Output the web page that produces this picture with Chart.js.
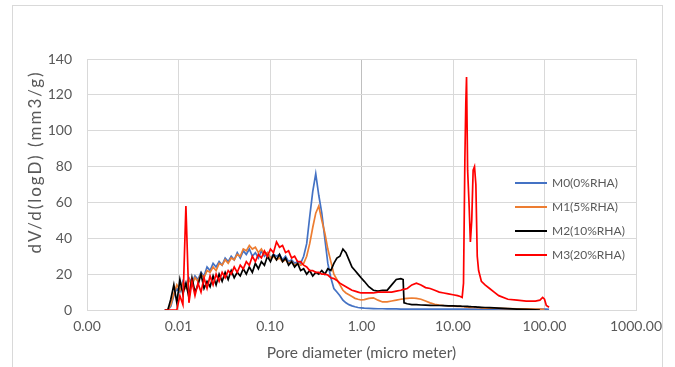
<!DOCTYPE html>
<html>
<head>
<meta charset="utf-8">
<script src="https://cdn.jsdelivr.net/npm/chart.js@4.4.1/dist/chart.umd.min.js"></script>
<style>
  body { margin: 0; background: #ffffff; }
  canvas { display: block; }
</style>
</head>
<body>
<canvas id="pore-chart" width="675" height="367"></canvas>
<script>
// Pore size distribution
const seriesLabels = ['M0(0%RHA)', 'M1(5%RHA)', 'M2(10%RHA)', 'M3(20%RHA)'];
const seriesColors = ['#4472C4', '#ED7D31', '#000000', '#FF0000'];

const xTitle = 'Pore diameter (micro meter)';
const yTitle = 'dV/d(logD) (mm3/g)';
const xTickValues = [0.001, 0.01, 0.1, 1, 10, 100, 1000];
const yMin = 0;
const yMax = 140;
const yStep = 20;

// pore diameter, micro meter
const poreDiameter = [
    0.00708, 0.00764, 0.00824, 0.00889, 0.00959, 0.01035, 0.01117, 0.01205, 0.01300, 0.01403,
    0.01514, 0.01633, 0.01762, 0.01901, 0.02051, 0.02213, 0.02388, 0.02576, 0.02780, 0.02999,
    0.03236, 0.03491, 0.03767, 0.04064, 0.04385, 0.04732, 0.05105, 0.05508, 0.05943, 0.06412,
    0.06918, 0.07464, 0.08054, 0.08690, 0.09376, 0.1012, 0.1091, 0.1178, 0.1271, 0.1371,
    0.1479, 0.1596, 0.1722, 0.1858, 0.2004, 0.2163, 0.2333, 0.2518, 0.2716, 0.2931,
    0.3162, 0.3412, 0.3681, 0.3972, 0.4285, 0.4624, 0.4989, 0.5383, 0.5808, 0.6266,
    0.6761, 0.7295, 0.7870, 0.8492, 0.9162, 0.9886,
    1.072, 1.202, 1.349, 1.514, 1.698, 1.905, 2.138, 2.399, 2.692, 2.851,
    2.917, 3.162, 3.548, 3.981, 4.467, 5.012, 5.623, 6.310, 7.079, 7.943,
    8.913, 10.00,
    11.22, 12.02, 12.59, 13.03, 13.49, 13.80, 14.06, 14.45, 14.96, 15.49,
    16.03, 16.60, 17.18, 17.78, 18.41, 19.05, 20.42, 22.39, 25.12, 28.18,
    31.62, 39.81, 50.12, 63.10, 79.43, 89.13, 95.50, 100.0, 104.7, 112.2
];

// dV/d(logD), mm3/g
const m0Values = [
    0, 0, 2, 8, 12, 10, 16, 13, 18, 15,
    19, 17, 21, 19, 24, 22, 26, 24, 27, 25,
    29, 27, 30, 28, 32, 29, 33, 31, 34, 30,
    32, 29, 33, 30, 32, 29, 31, 30, 31, 28,
    30, 27, 28, 26, 27, 26, 30, 37, 52, 66,
    76, 64, 54, 40, 26, 18, 12, 10, 8, 5.5,
    4, 3, 2.3, 1.8, 1.4, 1.2,
    1.0, 0.9, 0.8, 0.7, 0.7, 0.6, 0.6, 0.6, 0.5, 0.5,
    0.5, 0.5, 0.5, 0.5, 0.5, 0.5, 0.5, 0.5, 0.5, 0.5,
    0.5, 0.5,
    0.5, 0.5, 0.5, 0.5, 0.5, 0.5, 0.5, 0.5, 0.5, 0.5,
    0.5, 0.5, 0.5, 0.5, 0.5, 0.5, 0.5, 0.5, 0.5, 0.5,
    0.5, 0.5, 0.5, 0.5, 0.5, 0.5, 0.5, 0.5, 0.5, 0.3
];

const m1Values = [
    0, 0, 3, 9, 14, 11, 15, 12, 17, 14,
    18, 16, 20, 18, 22, 21, 24, 22, 26, 25,
    28, 26, 29, 28, 31, 30, 34, 33, 36, 34,
    35, 32, 34, 31, 32, 29, 30, 28, 29, 27,
    28, 26, 27, 25, 26, 25, 26, 30, 37, 46,
    54, 58, 50, 43, 34, 27, 20, 17, 14, 11,
    9.5, 8.5, 7.5, 6.5, 6, 5.6,
    5.8, 6.5, 6.8, 5.5, 4.5, 4.5, 5, 5.5, 6, 6.2,
    6.3, 6.5, 6.7, 6.5, 6, 5, 4, 3.2, 2.8, 2.5,
    2.3, 2.2,
    2, 2, 1.8, 1.8, 1.7, 1.7, 1.6, 1.6, 1.5, 1.5,
    1.5, 1.4, 1.4, 1.4, 1.3, 1.3, 1.2, 1.1, 1, 1,
    0.9, 0.8, 0.7, 0.6, 0.5, 0.5, 0.4, 0.3, null, null
];

const m2Values = [
    0, 0, 6, 14, 4, 17, 9, 15, 7, 18,
    10, 14, 20, 12, 16, 13, 19, 14, 20, 16,
    21, 17, 22, 18, 21, 19, 23, 20, 24, 21,
    26, 23, 27, 25, 30, 27, 31, 28, 31, 27,
    29, 25, 27, 24, 26, 22, 23, 20, 22, 19,
    21, 20, 22, 20, 23, 22, 26, 29, 30, 34,
    32, 28, 24, 22, 20, 18,
    16, 13, 11, 10.5, 11, 11, 14, 17, 17.5, 17,
    4, 3.5, 3, 3, 2.8, 2.7, 2.6, 2.5, 2.5, 2.4,
    2.3, 2.3,
    2.2, 2.2, 2.1, 2.1, 2, 2, 2, 2, 1.9, 1.9,
    1.8, 1.8, 1.7, 1.7, 1.6, 1.6, 1.5, 1.4, 1.3, 1.2,
    1.1, 0.8, 0.5, 0.3, 0.1, 0, null, null, null, null
];

const m3Values = [
    0, 0, 0, 0, 0, 8, 3, 58, 4, 16,
    8, 15, 10, 18, 12, 19, 14, 20, 16, 21,
    18, 22, 20, 24, 21, 25, 23, 27, 25, 30,
    27, 31, 29, 33, 30, 34, 32, 38, 35, 36,
    32, 33, 29, 30, 27, 27, 25, 24, 22, 22,
    21, 21, 20, 20, 19.5, 18, 17.5, 16.5, 15, 14,
    13, 12, 11, 10.5, 10, 9.5,
    9.5, 9.5, 9.5, 10, 10, 10, 10, 10.5, 11, 11.5,
    11.5, 12, 14, 15, 14, 12.5, 12, 11, 10, 9.5,
    9, 8.5,
    8, 7.5, 7, 15, 85, 115, 130, 78, 60, 38,
    50, 78, 80, 70, 30, 22, 16, 14, 12, 10,
    8, 6, 5.5, 5, 5, 5.5, 7, 6, 2.5, 1.5
];

const seriesValues = [m0Values, m1Values, m2Values, m3Values];

const textColor = '#595959';
const gridColor = '#d9d9d9';
const fontFamily = 'Lato, "Liberation Sans", sans-serif';

function toPoints(values) {
    return values.map((v, i) => ({ x: poreDiameter[i], y: v }));
}

// Chart frame and white background
const framePlugin = {
    id: 'frame',
    beforeDraw: function(chart) {
        const ctx = chart.ctx;
        ctx.save();
        ctx.fillStyle = '#ffffff';
        ctx.fillRect(0, 0, chart.width, chart.height);
        ctx.strokeStyle = gridColor;
        ctx.lineWidth = 1;
        ctx.strokeRect(12.5, 5.5, 650, 380);
        ctx.restore();
    }
};

// Y title sits a bit above the axis middle in the original
const yTitlePlugin = {
    id: 'yTitle',
    afterDraw: function(chart) {
        const ctx = chart.ctx;
        ctx.save();
        ctx.translate(36, 162);
        ctx.rotate(-Math.PI / 2);
        ctx.font = '17px ' + fontFamily;
        ctx.letterSpacing = '2px';
        ctx.fillStyle = textColor;
        ctx.textAlign = 'center';
        ctx.textBaseline = 'middle';
        ctx.fillText(yTitle, 0, 0);
        ctx.restore();
    }
};

// Legend sitting inside the plot, right side
const insideLegendPlugin = {
    id: 'insideLegend',
    afterDraw: function(chart) {
        const ctx = chart.ctx;
        const area = chart.chartArea;
        const lineStart = area.right - 121;
        const lineEnd = area.right - 89;
        let y = area.top + 124;
        ctx.save();
        ctx.font = '12px ' + fontFamily;
        ctx.textBaseline = 'middle';
        ctx.textAlign = 'left';
        chart.data.datasets.forEach((ds) => {
            ctx.strokeStyle = ds.borderColor;
            ctx.lineWidth = 2;
            ctx.beginPath();
            ctx.moveTo(lineStart, y);
            ctx.lineTo(lineEnd, y);
            ctx.stroke();
            ctx.fillStyle = textColor;
            ctx.fillText(ds.label, lineEnd + 5, y);
            y += 24;
        });
        ctx.restore();
    }
};

const ctx = document.getElementById('pore-chart').getContext('2d');
const poreChart = new Chart(ctx, {
    type: 'line',
    data: {
        datasets: seriesLabels.map((label, i) => ({
            label: label,
            data: toPoints(seriesValues[i]),
            borderColor: seriesColors[i],
            backgroundColor: seriesColors[i],
            borderWidth: 1.7,
            pointRadius: 0,
            tension: 0,
            fill: false,
            order: seriesLabels.length - 1 - i
        }))
    },
    options: {
        responsive: false,
        animation: false,
        devicePixelRatio: 1,
        layout: {
            padding: { left: 12, right: 39, top: 59, bottom: 5 }
        },
        scales: {
            x: {
                type: 'logarithmic',
                min: xTickValues[0],
                max: xTickValues[xTickValues.length - 1],
                afterBuildTicks: function(scale) {
                    scale.ticks = xTickValues.map(v => ({ value: v }));
                },
                afterFit: function(scale) {
                    scale.height = 52;
                },
                grid: {
                    color: function(c) {
                        return c.tick && c.tick.value === 1 ? '#bfbfbf' : gridColor;
                    },
                    drawTicks: false
                },
                border: { color: gridColor },
                ticks: {
                    color: textColor,
                    font: { family: fontFamily, size: 14 },
                    padding: 8,
                    maxRotation: 0,
                    autoSkip: false,
                    callback: function(value) {
                        return Number(value).toFixed(2);
                    }
                },
                title: {
                    display: true,
                    text: xTitle,
                    color: textColor,
                    font: { family: fontFamily, size: 15.5 },
                    padding: { top: 0, bottom: 0 }
                }
            },
            y: {
                min: yMin,
                max: yMax,
                afterFit: function(scale) {
                    scale.width = 75;
                },
                grid: { color: gridColor, drawTicks: false },
                border: { color: gridColor },
                ticks: {
                    stepSize: yStep,
                    color: textColor,
                    font: { family: fontFamily, size: 14 },
                    padding: 15
                },
                title: { display: false }
            }
        },
        plugins: {
            legend: { display: false },
            tooltip: { enabled: false }
        }
    },
    plugins: [framePlugin, yTitlePlugin, insideLegendPlugin]
});
</script>
</body>
</html>
